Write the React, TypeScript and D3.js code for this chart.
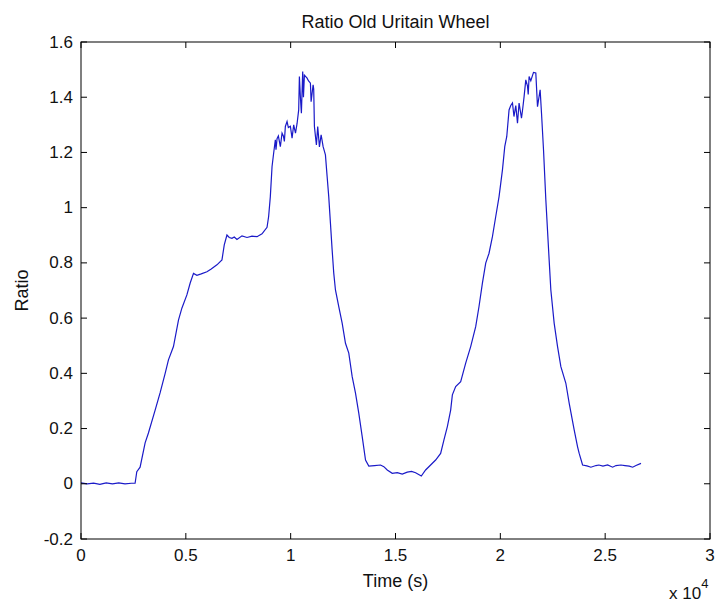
import React from "react";
import * as d3 from "d3";

const title = "Ratio Old Uritain Wheel";
const xLabel = "Time (s)";
const yLabel = "Ratio";
const xTicks = [0, 5000, 10000, 15000, 20000, 25000, 30000];
const xTickLabels = ["0", "0.5", "1", "1.5", "2", "2.5", "3"];
const yTicks = [-0.2, 0, 0.2, 0.4, 0.6, 0.8, 1, 1.2, 1.4, 1.6];
const yTickLabels = ["-0.2", "0", "0.2", "0.4", "0.6", "0.8", "1", "1.2", "1.4", "1.6"];

const timeSec = [
  0, 300, 600, 900, 1200, 1500, 1800, 2100, 2400, 2580,
  2661, 2819, 3058, 3216, 3536, 3775, 4014, 4171, 4410, 4649,
  4811, 5050, 5208, 5366, 5528, 5734, 6006, 6211, 6484, 6723,
  6833, 6961, 7071, 7200, 7310, 7439, 7678, 7917, 8156, 8395,
  8634, 8873, 8949, 9030, 9112, 9188, 9269, 9300, 9350, 9413, 9508,
  9589, 9652, 9700, 9747, 9828, 9890, 9986, 10067, 10144, 10230, 10306, 10383,
  10416, 10464, 10512, 10574, 10610, 10655, 10784, 10846, 10942, 10975, 11071,
  11099, 11133, 11180, 11228, 11290, 11372, 11453, 11548, 11658, 11739, 11816,
  11897, 11978, 12055, 12136, 12294, 12456, 12614, 12772, 12934, 13092,
  13250, 13412, 13570, 13727, 14000, 14286, 14444, 14606, 14845, 15084,
  15323, 15562, 15767, 15959, 16231, 16436, 16675, 16914, 17153, 17311,
  17473, 17631, 17712, 17870, 18109, 18348, 18586, 18825, 18983, 19145,
  19303, 19461, 19623, 19781, 19939, 20101, 20211, 20307, 20416, 20497,
  20579, 20650, 20737, 20818, 20894, 21009, 21070, 21133, 21214, 21296, 21330, 21372, 21453,
  21582, 21692, 21773, 21898, 21964, 22060, 22170, 22328, 22409, 22567,
  22729, 22887, 23125, 23283, 23522, 23684, 23761, 23923, 24129, 24320,
  24559, 24702, 24893, 25117, 25357, 25515, 25753, 25944, 26150, 26312,
  26470, 26709,
];

const ratio = [
  0.003, 0.0, 0.002, -0.002, 0.003, 0.0, 0.003, 0.0, 0.002, 0.002,
  0.044, 0.06, 0.148, 0.184, 0.267, 0.33, 0.4, 0.449, 0.497, 0.593,
  0.636, 0.684, 0.727, 0.762, 0.755, 0.76, 0.768, 0.778, 0.793, 0.811,
  0.865, 0.901, 0.892, 0.889, 0.894, 0.885, 0.898, 0.892, 0.897, 0.895,
  0.905, 0.929, 0.968, 1.04, 1.149, 1.197, 1.246, 1.21, 1.25, 1.26, 1.221,
  1.27, 1.26, 1.24, 1.294, 1.312, 1.29, 1.295, 1.252, 1.3, 1.27, 1.305, 1.354,
  1.475, 1.4, 1.342, 1.493, 1.4, 1.48, 1.469, 1.46, 1.451, 1.384, 1.445,
  1.43, 1.294, 1.26, 1.227, 1.294, 1.22, 1.264, 1.221, 1.191, 1.113, 1.04,
  0.944, 0.847, 0.763, 0.702, 0.642, 0.582, 0.509, 0.473, 0.388, 0.328,
  0.255, 0.171, 0.086, 0.064, 0.066, 0.068, 0.062, 0.05, 0.038, 0.04,
  0.035, 0.042, 0.045, 0.04, 0.028, 0.05, 0.068, 0.086, 0.11, 0.159,
  0.207, 0.267, 0.322, 0.352, 0.37, 0.437, 0.497, 0.569, 0.642, 0.727,
  0.799, 0.835, 0.895, 0.968, 1.04, 1.137, 1.221, 1.258, 1.354, 1.37,
  1.379, 1.33, 1.37, 1.306, 1.379, 1.324, 1.36, 1.402, 1.463, 1.44, 1.41, 1.475, 1.46,
  1.49, 1.488, 1.366, 1.427, 1.342, 1.209, 1.029, 0.811, 0.702, 0.582,
  0.497, 0.424, 0.364, 0.292, 0.195, 0.134, 0.11, 0.068, 0.065, 0.06,
  0.066, 0.068, 0.064, 0.068, 0.06, 0.066, 0.068, 0.066, 0.064, 0.06,
  0.066, 0.074,
];

const W = 717;
const H = 603;
const left = 81;
const right = 710;
const top = 42;
const bottom = 539;
const font = "'Liberation Sans', Arial, Helvetica, sans-serif";

export default function App() {
  const x = d3.scaleLinear().domain([0, 30000]).range([left, right]);
  const y = d3.scaleLinear().domain([-0.2, 1.6]).range([bottom, top]);
  const pts: [number, number][] = timeSec.map((t, i) => [t, ratio[i]]);
  const line = d3
    .line<[number, number]>()
    .x((d) => x(d[0]))
    .y((d) => y(d[1]));
  const tl = 6;
  return (
    <svg
      width={W}
      height={H}
      style={{ position: "absolute", left: 0, top: 0, background: "#fff" }}
      fontFamily={font}
    >
      <rect x={0} y={0} width={W} height={H} fill="#fff" />
      <path d={line(pts) || ""} fill="none" stroke="#1a1ac8" strokeWidth={1.2} />
      <rect
        x={left}
        y={top}
        width={right - left}
        height={bottom - top}
        fill="none"
        stroke="#000"
        strokeWidth={1}
      />
      {xTicks.map((t, i) => (
        <g key={"xt" + i}>
          <line x1={x(t)} x2={x(t)} y1={bottom} y2={bottom - tl} stroke="#000" />
          <line x1={x(t)} x2={x(t)} y1={top} y2={top + tl} stroke="#000" />
          <text x={x(t)} y={561} textAnchor="middle" fontSize={17} fill="#111">
            {xTickLabels[i]}
          </text>
        </g>
      ))}
      {yTicks.map((v, i) => (
        <g key={"yt" + i}>
          <line x1={left} x2={left + tl} y1={y(v)} y2={y(v)} stroke="#000" />
          <line x1={right} x2={right - tl} y1={y(v)} y2={y(v)} stroke="#000" />
          <text
            x={left - 8}
            y={y(v)}
            textAnchor="end"
            dominantBaseline="central"
            fontSize={17}
            fill="#111"
          >
            {yTickLabels[i]}
          </text>
        </g>
      ))}
      <text x={(left + right) / 2} y={28} textAnchor="middle" fontSize={18} fill="#111">
        {title}
      </text>
      <text x={(left + right) / 2} y={587} textAnchor="middle" fontSize={18} fill="#111">
        {xLabel}
      </text>
      <text
        transform={`translate(28, ${(top + bottom) / 2}) rotate(-90)`}
        textAnchor="middle"
        fontSize={18}
        fill="#111"
      >
        {yLabel}
      </text>
      <text x={669} y={599} fontSize={17} fill="#111">
        x 10
        <tspan dy={-11} fontSize={13}>
          4
        </tspan>
      </text>
    </svg>
  );
}
